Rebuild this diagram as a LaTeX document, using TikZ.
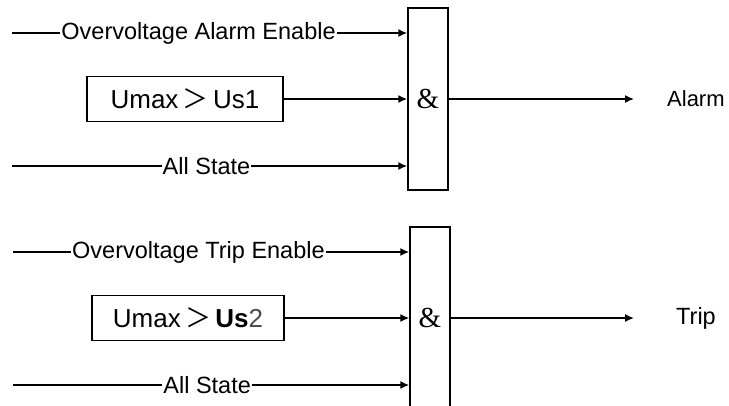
\documentclass[tikz,border=0pt]{standalone}
\usepackage{fontspec}
\setmainfont{Liberation Sans}
\newfontfamily\ampfont{Liberation Serif}
\newfontfamily\cjk{Noto Sans CJK SC}
\usetikzlibrary{arrows.meta,positioning}

\begin{document}
\begin{tikzpicture}[x=1pt, y=-1pt, font=\fontsize{23.5}{27}\selectfont,
  gate/.style={draw, line width=1.5pt, minimum width=40pt, minimum height=182pt, inner sep=0pt, font=\fontsize{29}{32}\ampfont},
  cmp/.style={draw, line width=1.5pt, minimum height=45pt, inner sep=0pt, font=\fontsize{26}{29}\selectfont},
  arr/.style={-{Latex[length=9pt, width=8pt]}, line width=1.5pt},
  sig/.style={fill=white, inner sep=1pt},
  result/.style={inner sep=0pt, anchor=west}]
  \clip (0,0) rectangle (729,405);
  \fill[white] (0,0) rectangle (729,405);
  % alarm channel
  \node[gate] (g1) at (428,99) {\&};
  \node[cmp, minimum width=196pt] (c1) at (185,99) {Umax\,{\cjk ＞}\,Us1};
  \node[result, font=\fontsize{22}{25}\selectfont] (alarm) at (667,99) {Alarm};
  \coordinate (a1) at (12,33);
  \coordinate (a3) at (12,166);
  \draw[arr] (a1) -- node[sig, pos=0.472] {Overvoltage Alarm Enable} (a1 -| g1.west);
  \draw[arr] (c1.east) -- (c1.east -| g1.west);
  \draw[arr] (a3) -- node[sig, pos=0.492] {All State} (a3 -| g1.west);
  \draw[arr, shorten >=33pt] (g1) -- (alarm);
  % trip channel
  \node[gate] (g2) at (430,318) {\&};
  \node[cmp, minimum width=192pt] (c2) at (188,318) {Umax\,{\cjk ＞}\,\textbf{Us}\textcolor{black!70}{2}};
  \node[result] (trip) at (676,318) {Trip};
  \coordinate (t1) at (13,252);
  \coordinate (t3) at (13,385);
  \draw[arr] (t1) -- node[sig, pos=0.468] {Overvoltage Trip Enable} (t1 -| g2.west);
  \draw[arr] (c2.east) -- (c2.east -| g2.west);
  \draw[arr] (t3) -- node[sig, pos=0.49] {All State} (t3 -| g2.west);
  \draw[arr, shorten >=42pt] (g2) -- (trip);
\end{tikzpicture}
\end{document}
